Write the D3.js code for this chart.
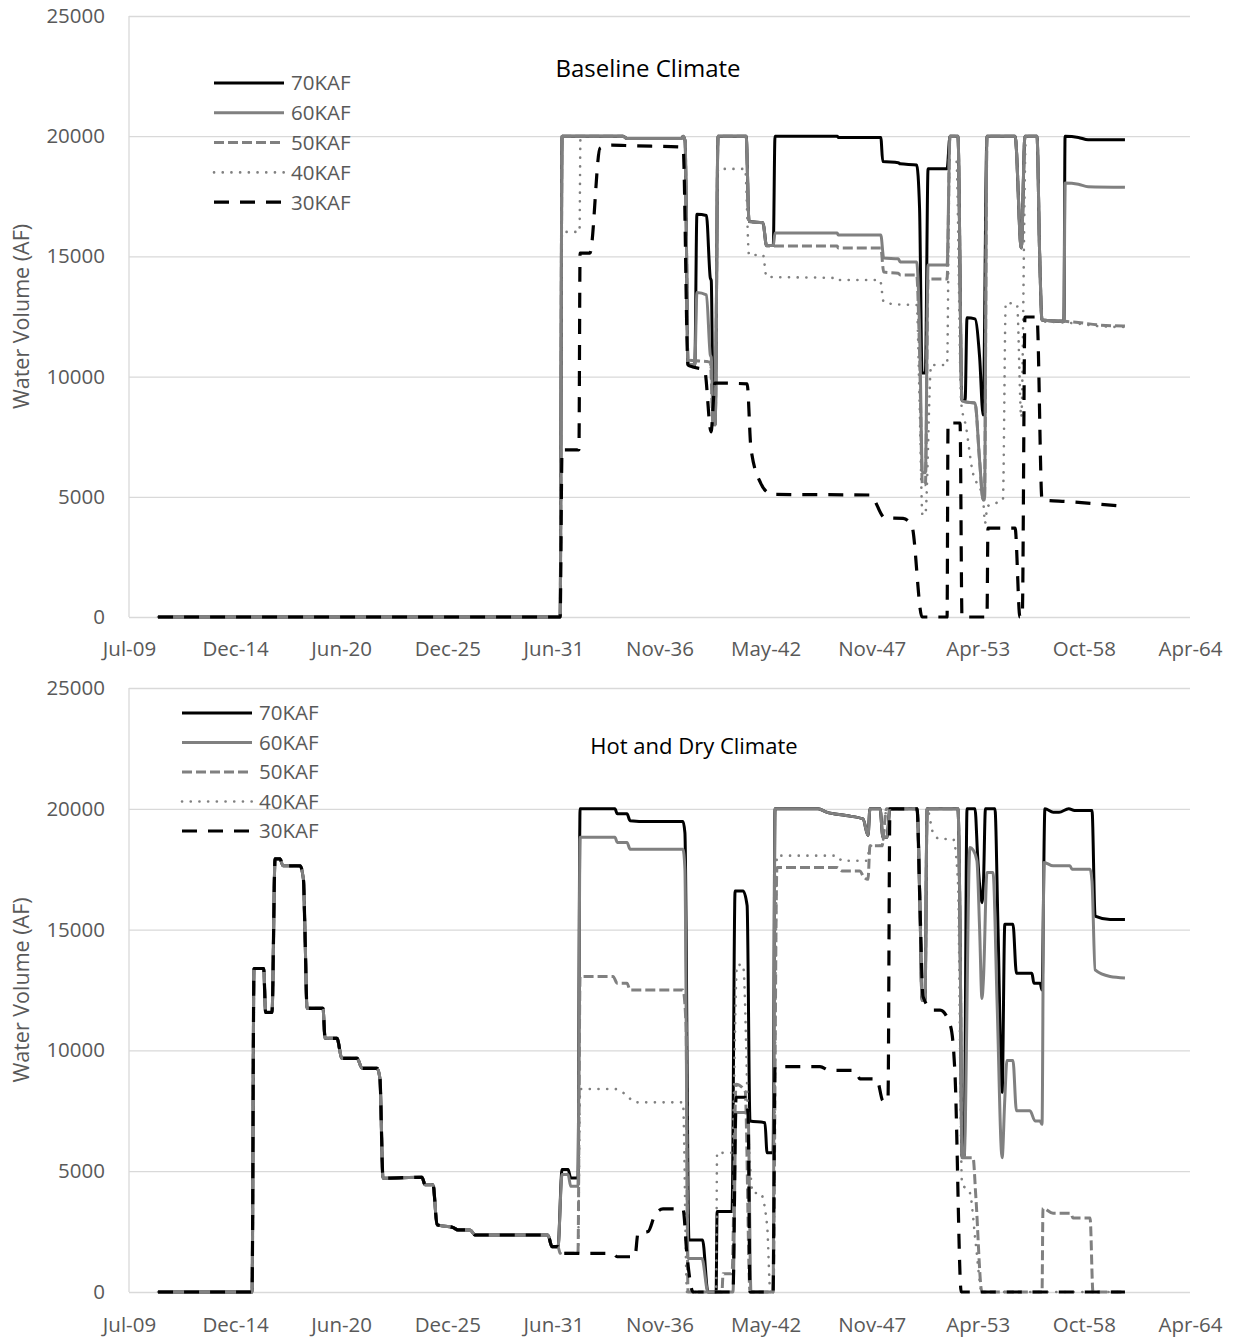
<!DOCTYPE html>
<html>
<head>
<meta charset="utf-8">
<script src="https://cdn.jsdelivr.net/npm/d3@7"></script>
<style>
  body { margin: 0; background: #fff; }
  text { font-family: "Open Sans", sans-serif; }
  .grid line { stroke: #d9d9d9; stroke-width: 1.3; }
  .tick text { fill: #595959; font-size: 20.5px; }
  .series { fill: none; }
</style>
</head>
<body>
<div class="container"></div>
<script>
// ---------- DATA ----------
var xTickLabels = ["Jul-09", "Dec-14", "Jun-20", "Dec-25", "Jun-31", "Nov-36", "May-42", "Nov-47", "Apr-53", "Oct-58", "Apr-64"];
var yTicks = [0, 5000, 10000, 15000, 20000, 25000];
var seriesNames = ["70KAF", "60KAF", "50KAF", "40KAF", "30KAF"];

// [decimal year, water volume AF]
var base70 = [[1911,0],[1931.75,0],[1931.85,20000],[1935.0,20000],[1935.2,19900],[1938.0,19900],[1938.1,20000],[1938.2,19800],[1938.35,10500],[1938.7,10500],[1938.81,16750],[1939.3,16700],[1939.5,14100],[1939.55,14000],[1939.65,8100],[1939.75,8000],[1939.9,20000],[1941.35,20000],[1941.5,16450],[1942.22,16400],[1942.4,15450],[1942.75,15450],[1942.84,20000],[1946.05,20000],[1946.1,19950],[1948.3,19950],[1948.4,18950],[1949.2,18900],[1949.3,18850],[1950.15,18800],[1950.3,17000],[1950.43,10150],[1950.6,10150],[1950.74,18650],[1951.72,18650],[1951.87,20000],[1952.28,20000],[1952.49,9000],[1952.65,9000],[1952.75,12450],[1953.16,12400],[1953.4,10800],[1953.58,8400],[1953.78,20000],[1955.23,20000],[1955.55,15350],[1955.74,20000],[1956.36,20000],[1956.5,15000],[1956.62,12350],[1957.75,12300],[1957.81,20000],[1958.5,19950],[1959.0,19850],[1960.9,19850]];
var base60 = [[1911,0],[1931.75,0],[1931.85,20000],[1935.0,20000],[1935.2,19900],[1938.0,19900],[1938.1,20000],[1938.2,19800],[1938.35,10500],[1938.7,10500],[1938.81,13500],[1939.3,13400],[1939.5,10900],[1939.55,10800],[1939.65,8000],[1939.75,8000],[1939.9,20000],[1941.35,20000],[1941.5,16450],[1942.22,16400],[1942.4,15450],[1942.75,15450],[1942.84,15970],[1946.05,15970],[1946.1,15890],[1948.3,15890],[1948.45,14930],[1949.2,14900],[1949.3,14770],[1950.15,14770],[1950.3,12000],[1950.45,6000],[1950.6,6000],[1950.74,14640],[1951.72,14640],[1951.87,20000],[1952.28,20000],[1952.49,9000],[1952.65,8950],[1953.16,8900],[1953.4,6500],[1953.58,4870],[1953.65,4870],[1953.78,20000],[1955.23,20000],[1955.55,15350],[1955.74,20000],[1956.36,20000],[1956.5,15000],[1956.62,12350],[1957.75,12300],[1957.81,18050],[1958.5,18000],[1959.0,17900],[1960.9,17880]];
var base50 = [[1911,0],[1931.75,0],[1931.85,20000],[1935.0,20000],[1935.2,19900],[1938.0,19900],[1938.1,20000],[1938.2,19800],[1938.35,10700],[1939.5,10600],[1939.65,8000],[1939.75,8000],[1939.9,20000],[1941.35,20000],[1941.5,16450],[1942.22,16400],[1942.4,15430],[1946.05,15430],[1946.1,15350],[1948.3,15350],[1948.45,14350],[1949.2,14300],[1949.3,14230],[1950.15,14230],[1950.3,11000],[1950.45,5500],[1950.6,5500],[1950.74,14060],[1951.72,14060],[1951.87,20000],[1952.28,20000],[1952.49,9000],[1952.65,8950],[1953.16,8900],[1953.4,6500],[1953.58,4870],[1953.65,4870],[1953.78,20000],[1955.23,20000],[1955.55,15350],[1955.74,20000],[1956.36,20000],[1956.5,15000],[1956.62,12350],[1957.8,12300],[1958.5,12250],[1959.5,12150],[1960.9,12100]];
var base40 = [[1911,0],[1931.75,0],[1931.85,16020],[1932.75,16020],[1932.8,20000],[1935.0,20000],[1935.2,19900],[1938.0,19900],[1938.2,19800],[1938.35,10700],[1939.5,10600],[1939.65,8000],[1939.75,8000],[1939.9,18640],[1941.3,18640],[1941.5,15060],[1942.22,15060],[1942.4,14150],[1946.05,14100],[1946.1,14020],[1948.26,14020],[1948.45,13100],[1949.2,13000],[1950.15,12980],[1950.3,9000],[1950.45,4240],[1950.6,4300],[1950.9,10480],[1951.72,10480],[1951.85,19000],[1952.2,19000],[1952.45,8900],[1952.7,7900],[1953.0,6200],[1953.58,4870],[1953.68,3900],[1953.8,4600],[1954.6,4870],[1954.75,13060],[1955.33,13000],[1955.55,8300],[1955.79,20000],[1956.36,20000],[1956.5,15000],[1956.62,12300],[1957.8,12250],[1958.5,12200],[1959.5,12100],[1960.9,12060]];
var base30 = [[1911,0],[1931.75,0],[1931.85,6950],[1932.72,6950],[1932.78,15140],[1933.29,15140],[1933.81,19500],[1934.43,19630],[1935.5,19600],[1938.0,19550],[1938.1,19500],[1938.35,10480],[1938.6,10400],[1939.2,10280],[1939.54,7700],[1939.74,9730],[1941.4,9700],[1941.6,7000],[1942.1,5570],[1942.5,5160],[1942.74,5100],[1947.74,5075],[1948.52,4120],[1949.45,4100],[1949.9,3800],[1950.43,0],[1951.72,0],[1951.77,8070],[1952.39,8070],[1952.49,0],[1953.78,0],[1953.83,3700],[1955.23,3700],[1955.48,0],[1955.6,0],[1955.74,12480],[1956.36,12480],[1956.62,4870],[1958.0,4800],[1959.5,4700],[1960.9,4600]];

// hot & dry: all five curves share the first two decades
var hotEarly = [[1911,0],[1915.85,0],[1915.95,13390],[1916.45,13390],[1916.55,11570],[1916.88,11570],[1917.04,17930],[1917.29,17930],[1917.45,17640],[1918.33,17640],[1918.5,17100],[1918.58,14960],[1918.69,11740],[1919.51,11740],[1919.62,10500],[1920.23,10500],[1920.49,9670],[1921.27,9670],[1921.53,9260],[1922.3,9260],[1922.45,8840],[1922.61,4710],[1924.62,4750],[1924.78,4440],[1925.19,4440],[1925.4,2780],[1926.22,2670],[1926.48,2570],[1927.1,2570],[1927.36,2360],[1931.12,2360],[1931.33,1875]];
var hot70 = hotEarly.concat([[1931.64,1875],[1931.85,5070],[1932.16,5070],[1932.3,4720],[1932.67,4720],[1932.78,20000],[1934.58,20000],[1934.7,19790],[1935.2,19790],[1935.36,19510],[1936.3,19470],[1938.09,19470],[1938.19,19000],[1938.4,2150],[1939.1,2150],[1939.38,0],[1939.8,0],[1939.85,3330],[1940.62,3330],[1940.78,16600],[1941.19,16600],[1941.4,16000],[1941.55,7080],[1942.32,7010],[1942.43,5760],[1942.74,5760],[1942.84,20000],[1945.06,20000],[1945.5,19860],[1946.5,19720],[1947.38,19580],[1947.64,18900],[1947.74,20000],[1948.26,20000],[1948.41,18820],[1948.62,18820],[1948.77,20000],[1950.17,20000],[1950.32,16000],[1950.43,12080],[1950.58,12080],[1950.69,20000],[1952.28,20000],[1952.39,15000],[1952.49,5600],[1952.6,5600],[1952.75,20000],[1953.16,20000],[1953.3,18000],[1953.52,16110],[1953.6,17000],[1953.7,20000],[1954.19,20000],[1954.35,15000],[1954.56,8260],[1954.7,15220],[1955.12,15220],[1955.3,13190],[1956.1,13190],[1956.2,12780],[1956.52,12780],[1956.62,12500],[1956.77,20000],[1957.2,19860],[1957.5,19860],[1958.0,20000],[1958.3,19930],[1959.2,19930],[1959.36,15560],[1960.13,15420],[1960.9,15420]]);
var hot60 = hotEarly.concat([[1931.64,1875],[1931.85,4860],[1932.16,4860],[1932.3,4375],[1932.67,4375],[1932.78,18820],[1934.58,18820],[1934.7,18610],[1935.2,18610],[1935.36,18330],[1938.09,18330],[1938.19,17500],[1938.35,1390],[1939.07,1390],[1939.38,0],[1940.67,0],[1940.83,7430],[1941.45,7430],[1941.6,0],[1942.74,0],[1942.84,20000],[1945.06,20000],[1945.5,19860],[1946.5,19720],[1947.38,19580],[1947.64,18900],[1947.74,20000],[1948.26,20000],[1948.41,18820],[1948.62,18820],[1948.77,20000],[1950.17,20000],[1950.32,16000],[1950.43,12080],[1950.58,12080],[1950.69,20000],[1952.28,20000],[1952.39,15000],[1952.49,5600],[1952.6,5600],[1952.9,18400],[1953.06,18300],[1953.26,17850],[1953.4,15000],[1953.52,12150],[1953.6,13000],[1953.78,17360],[1954.09,17360],[1954.3,12000],[1954.56,5560],[1954.7,8000],[1954.81,9580],[1955.12,9580],[1955.3,7500],[1956.0,7500],[1956.26,7080],[1956.52,7080],[1956.62,6940],[1956.72,17780],[1957.19,17640],[1958.06,17640],[1958.17,17500],[1959.1,17500],[1959.2,17000],[1959.36,13330],[1960.13,13060],[1960.9,13000]]);
var hot50 = hotEarly.concat([[1931.64,1875],[1931.75,1600],[1932.67,1600],[1932.78,13060],[1934.48,13060],[1934.7,12780],[1935.2,12780],[1935.36,12500],[1938.09,12500],[1938.25,11000],[1938.35,0],[1940.1,0],[1940.16,760],[1940.62,760],[1940.83,8600],[1941.3,8300],[1941.55,0],[1942.74,0],[1942.94,17570],[1946.04,17570],[1946.3,17430],[1947.23,17430],[1947.38,17220],[1947.64,17080],[1947.74,18470],[1948.36,18470],[1948.6,20000],[1950.17,20000],[1950.32,16000],[1950.43,12080],[1950.58,12080],[1950.69,20000],[1952.28,20000],[1952.39,15000],[1952.49,5560],[1953.06,5560],[1953.2,4000],[1953.52,0],[1956.62,0],[1956.67,3470],[1957.19,3260],[1958.1,3260],[1958.22,3060],[1959.1,3060],[1959.25,0],[1960.9,0]]);
var hot40 = hotEarly.concat([[1931.64,1875],[1931.75,1600],[1932.67,1600],[1932.78,8400],[1934.58,8400],[1935.2,8130],[1935.61,7850],[1938.09,7850],[1938.3,0],[1939.8,0],[1939.85,5760],[1940.62,5760],[1940.88,13540],[1941.19,13540],[1941.5,6000],[1941.7,4100],[1942.07,4100],[1942.43,2780],[1942.6,0],[1942.74,0],[1942.94,18060],[1946.04,18060],[1946.3,17850],[1947.59,17850],[1947.74,18470],[1948.36,18470],[1948.6,20000],[1950.17,20000],[1950.32,16000],[1950.43,12080],[1950.58,12080],[1950.69,20000],[1951.0,19000],[1951.36,18750],[1952.03,18750],[1952.28,17000],[1952.49,4500],[1952.9,4100],[1953.2,2000],[1953.52,0],[1960.9,0]]);
var hot30 = hotEarly.concat([[1931.64,1875],[1931.75,1600],[1934.48,1600],[1934.69,1460],[1935.61,1460],[1935.77,2430],[1936.29,2500],[1936.65,3200],[1937.06,3440],[1938.09,3440],[1938.3,1500],[1938.61,0],[1940.67,0],[1940.83,8060],[1941.29,8060],[1941.45,7400],[1941.55,0],[1942.74,0],[1942.84,9330],[1945.16,9330],[1945.68,9170],[1946.97,9170],[1947.23,8820],[1947.85,8820],[1948.1,8800],[1948.41,7920],[1948.67,7920],[1948.77,20000],[1950.17,20000],[1950.32,16000],[1950.48,12220],[1951.0,11670],[1951.36,11670],[1951.9,11000],[1952.13,9000],[1952.45,0],[1960.9,0]]);

// ---------- LAYOUT ----------
var width = 1234, height = 1337;
var plotLeft = 129, plotRight = 1190;
var tickStart = 1909.5, tickStep = 2000 / 365.25;

var styles = [
  { color: "#000000", width: 3,   dash: null },
  { color: "#808080", width: 3,   dash: null },
  { color: "#808080", width: 3,   dash: "10,4" },
  { color: "#808080", width: 2.6, dash: "0.1,8.6", cap: "round" },
  { color: "#000000", width: 3.2, dash: "15,11" }
];

var svg = d3.select(".container").append("svg")
    .attr("width", width)
    .attr("height", height);

var x = d3.scaleLinear()
    .domain([tickStart, tickStart + 10 * tickStep])
    .range([plotLeft, plotRight]);

var xTickValues = xTickLabels.map(function(d, i) { return tickStart + i * tickStep; });

function drawPanel(opts) {
  var y = d3.scaleLinear().domain([0, 25000]).range([opts.bottom, opts.top]);
  var g = svg.append("g");

  // gridlines + y labels
  g.append("g")
    .attr("class", "grid")
    .attr("transform", "translate(" + plotLeft + ",0)")
    .call(d3.axisLeft(y).tickValues(yTicks).tickSize(-(plotRight - plotLeft)).tickPadding(24).tickFormat(d3.format("d")))
    .call(function(a) { a.select(".domain").remove(); });

  g.append("line")
    .attr("x1", plotLeft).attr("x2", plotLeft)
    .attr("y1", opts.top).attr("y2", opts.bottom)
    .attr("stroke", "#d9d9d9").attr("stroke-width", 1.3);

  // x labels
  g.append("g")
    .attr("transform", "translate(0," + opts.bottom + ")")
    .call(d3.axisBottom(x).tickValues(xTickValues).tickSize(0).tickPadding(opts.xPad)
      .tickFormat(function(d, i) { return xTickLabels[i]; }))
    .call(function(a) { a.select(".domain").remove(); });

  var line = d3.line()
    .x(function(d) { return x(d[0]); })
    .y(function(d) { return y(d[1]); })
    .curve(d3.curveMonotoneX);

  opts.series.forEach(function(s, i) {
    g.append("path")
      .datum(s)
      .attr("class", "series")
      .attr("d", line)
      .attr("stroke", styles[i].color)
      .attr("stroke-width", styles[i].width)
      .attr("stroke-dasharray", styles[i].dash)
      .attr("stroke-linecap", styles[i].cap || "butt")
      .attr("stroke-linejoin", "round");
  });

  // legend
  var lg = g.append("g").attr("transform", "translate(" + opts.legendX + "," + opts.legendY + ")");
  seriesNames.forEach(function(name, i) {
    var row = lg.append("g").attr("transform", "translate(0," + (i * opts.legendStep) + ")");
    row.append("line")
      .attr("x1", 0).attr("x2", 70)
      .attr("stroke", styles[i].color)
      .attr("stroke-width", styles[i].width)
      .attr("stroke-dasharray", styles[i].dash)
      .attr("stroke-linecap", styles[i].cap || "butt");
    row.append("text")
      .attr("x", 77).attr("dy", "0.36em")
      .attr("fill", "#595959")
      .style("font-size", "20.5px")
      .text(name);
  });

  g.append("text")
    .attr("x", opts.titleX).attr("y", opts.titleY)
    .attr("text-anchor", "middle")
    .attr("dy", "0.36em")
    .style("font-size", opts.titleSize)
    .attr("fill", "#000")
    .text(opts.title);

  g.append("text")
    .attr("transform", "translate(21," + ((opts.top + opts.bottom) / 2) + ") rotate(-90)")
    .attr("text-anchor", "middle")
    .attr("dy", "0.36em")
    .style("font-size", "21.5px")
    .attr("fill", "#595959")
    .text("Water Volume (AF)");
}

drawPanel({
  top: 16, bottom: 617, xPad: 24,
  series: [base70, base60, base50, base40, base30],
  legendX: 214, legendY: 83, legendStep: 29.8,
  title: "Baseline Climate", titleX: 648, titleY: 68, titleSize: "24px"
});

drawPanel({
  top: 688, bottom: 1292, xPad: 25,
  series: [hot70, hot60, hot50, hot40, hot30],
  legendX: 182, legendY: 713, legendStep: 29.5,
  title: "Hot and Dry Climate", titleX: 694, titleY: 746, titleSize: "22px"
});
</script>
</body>
</html>
